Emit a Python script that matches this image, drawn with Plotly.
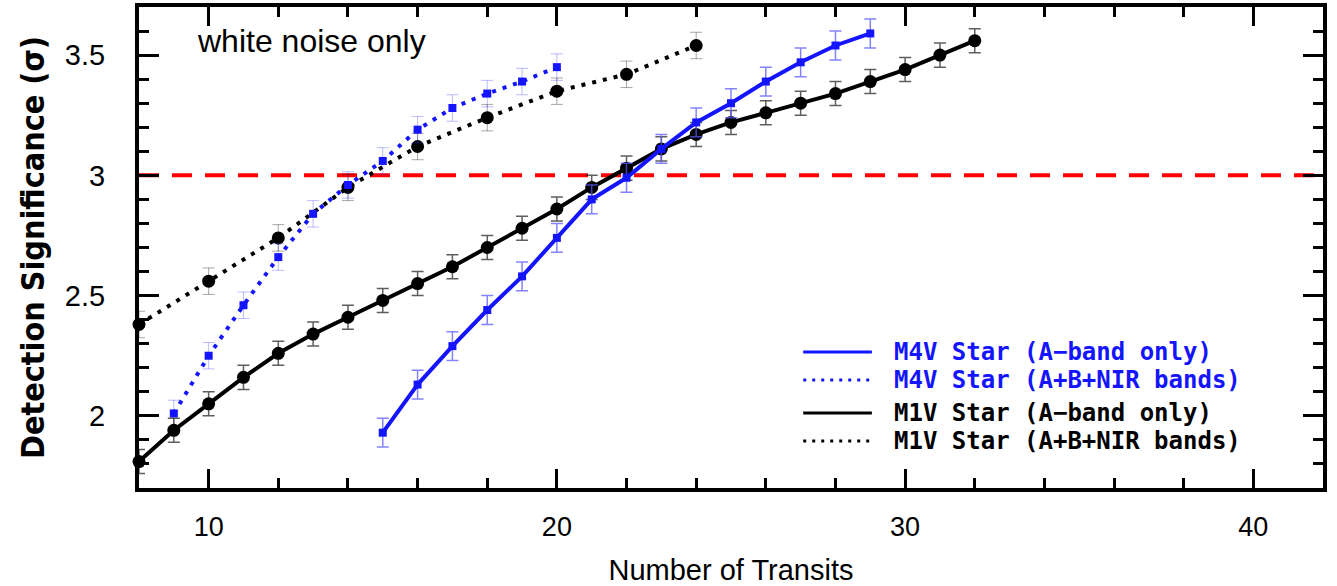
import plotly.graph_objects as go

# ---- data ----
m1v_a_x = list(range(8, 33))
m1v_a_y = [1.81, 1.94, 2.05, 2.16, 2.26, 2.34, 2.41, 2.48, 2.55, 2.62, 2.70, 2.78,
           2.86, 2.95, 3.03, 3.11, 3.17, 3.22, 3.26, 3.30, 3.34, 3.39, 3.44, 3.50, 3.56]
m1v_a_err = [0.05] * len(m1v_a_x)

m4v_a_x = list(range(15, 30))
m4v_a_y = [1.93, 2.13, 2.29, 2.44, 2.58, 2.74, 2.90, 2.99, 3.11, 3.22, 3.30,
           3.39, 3.47, 3.54, 3.59]
m4v_a_err = [0.06] * len(m4v_a_x)

m4v_all_x = list(range(9, 21))
m4v_all_y = [2.01, 2.25, 2.46, 2.66, 2.84, 2.96, 3.06, 3.19, 3.28, 3.34, 3.39, 3.45]
m4v_all_err = [0.055] * len(m4v_all_x)

m1v_all_x = [8, 10, 12, 14, 16, 18, 20, 22, 24]
m1v_all_y = [2.38, 2.56, 2.74, 2.95, 3.12, 3.24, 3.35, 3.42, 3.54]
m1v_all_err = [0.055] * len(m1v_all_x)

threshold = 3.0
y_tickvals = [2, 2.5, 3, 3.5]
y_ticktext = ["2", "2.5", "3", "3.5"]
x_tickvals = [10, 20, 30, 40]
x_ticktext = ["10", "20", "30", "40"]

legend_labels = ["M4V Star (A\u2212band only)", "M4V Star (A+B+NIR bands)",
                 "M1V Star (A\u2212band only)", "M1V Star (A+B+NIR bands)"]

BLUE = "#1414ff"
BLACK = "#000000"

fig = go.Figure()

def add_series(x, y, err, color, dash, symbol, msize, ecolor, ethick):
    fig.add_trace(go.Scatter(
        x=x, y=y, mode="lines+markers",
        line=dict(color=color, width=4, dash=dash),
        marker=dict(color=color, symbol=symbol, size=msize, line=dict(width=0)),
        error_y=dict(type="data", array=err, visible=True, color=ecolor,
                     thickness=ethick, width=6),
        cliponaxis=False, showlegend=False))

add_series(m1v_all_x, m1v_all_y, m1v_all_err, BLACK, "4px,7px", "circle", 13,
           "rgba(0,0,0,0.35)", 1)
add_series(m4v_all_x, m4v_all_y, m4v_all_err, BLUE, "4px,7px", "square", 8,
           "rgba(60,60,255,0.35)", 1)
add_series(m1v_a_x, m1v_a_y, m1v_a_err, BLACK, "solid", "circle", 13,
           "rgba(40,40,40,0.75)", 1.5)
add_series(m4v_a_x, m4v_a_y, m4v_a_err, BLUE, "solid", "square", 8,
           "rgba(90,90,255,0.75)", 1.5)

# threshold line
fig.add_shape(type="line", xref="paper", x0=0, x1=1, yref="y", y0=threshold, y1=threshold,
              line=dict(color="#ff0000", width=4, dash="20px,13px"), layer="below")

# manual legend (pixel rows 352, 380, 413, 441 -> paper)
leg_rows = [0.2827, 0.2245, 0.1559, 0.0977]
leg_colors = [BLUE, BLUE, BLACK, BLACK]
leg_dash = ["solid", "3px,6px", "solid", "3px,6px"]
for yy, col, ds, lab in zip(leg_rows, leg_colors, leg_dash, legend_labels):
    fig.add_shape(type="line", xref="paper", yref="paper", x0=0.561, x1=0.619,
                  y0=yy, y1=yy, line=dict(color=col, width=3, dash=ds))
    fig.add_annotation(xref="paper", yref="paper", x=0.636, y=yy, text=lab,
                       showarrow=False, xanchor="left", yanchor="middle",
                       font=dict(family="DejaVu Sans Mono", size=24, color=col,
                                 weight="bold"))

fig.add_annotation(xref="paper", yref="paper", x=0.047, y=0.929, text="white noise only",
                   showarrow=False, xanchor="left", yanchor="middle",
                   font=dict(family="Liberation Sans, Arial", size=32, color="black"))

axis_common = dict(showline=True, linewidth=4, linecolor="black", mirror="ticks",
                   ticks="inside", tickwidth=3, tickcolor="black", showgrid=False,
                   zeroline=False, automargin=False)

fig.update_xaxes(range=[8, 42], tickvals=x_tickvals, ticktext=x_ticktext, ticklen=19,
                 minor=dict(dtick=2, ticklen=10, tickwidth=3, ticks="inside",
                            tickcolor="black", showgrid=False),
                 tickfont=dict(family="Liberation Sans, Arial", size=27, color="black"),
                 ticklabelstandoff=12,
                 title=dict(text="Number of Transits", standoff=19,
                            font=dict(family="Liberation Sans, Arial", size=29,
                                      color="black")),
                 **axis_common)
fig.update_yaxes(range=[1.7, 3.7], tickvals=y_tickvals, ticktext=y_ticktext, ticklen=20,
                 minor=dict(dtick=0.1, tick0=0, ticklen=10, tickwidth=3, ticks="inside",
                            tickcolor="black", showgrid=False),
                 tickfont=dict(family="Liberation Sans, Arial", size=29, color="black"),
                 ticklabelstandoff=24,
                 title=dict(text="Detection Significance (\u03c3)", standoff=12,
                            font=dict(family="Liberation Sans Narrow, DejaVu Sans Condensed",
                                      size=32, color="black", weight="bold")),
                 **axis_common)

fig.update_layout(width=1337, height=586, margin=dict(l=139, r=14, t=7, b=98),
                  plot_bgcolor="white", paper_bgcolor="white")

fig.write_html("out.html")
